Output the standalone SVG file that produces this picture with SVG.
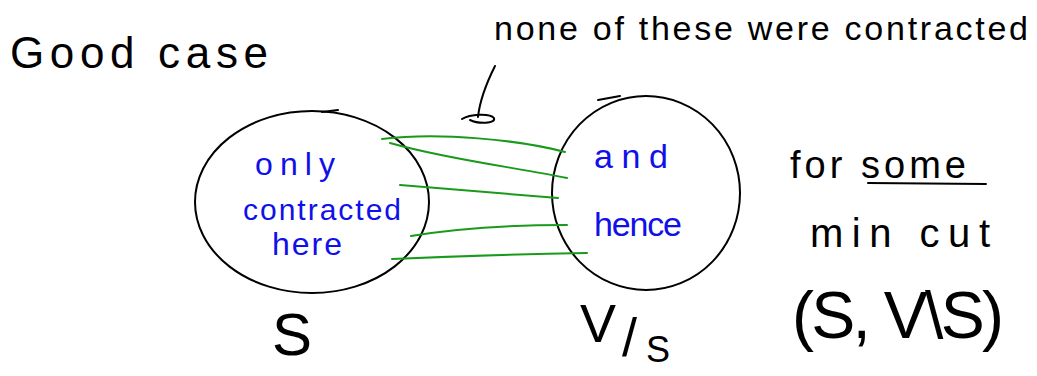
<svg xmlns="http://www.w3.org/2000/svg" width="1037" height="376" viewBox="0 0 1037 376">
<style>
.ink{fill:none;stroke:#000;stroke-width:2;stroke-linecap:round}
.edge{fill:none;stroke:#1a9a1a;stroke-width:2;stroke-linecap:round}
.t{font-family:"Liberation Sans","DejaVu Sans",sans-serif;fill:#000}
.b{font-family:"Liberation Sans","DejaVu Sans",sans-serif;fill:#1010e8}
</style>
<rect width="1037" height="376" fill="#fff"/>
<text class="t" x="10" y="68" font-size="44" textLength="258">Good case</text>
<text class="t" x="494" y="40" font-size="34" textLength="534">none of these were contracted</text>
<g id="node-S">
<ellipse class="ink" cx="312" cy="202" rx="117" ry="91"/>
<path class="ink" d="M322 112 L338 110"/>
<text class="b" x="255" y="175" font-size="32" textLength="80">only</text>
<text class="b" x="243" y="220" font-size="30" textLength="158">contracted</text>
<text class="b" x="272" y="255" font-size="32" textLength="70">here</text>
</g>
<g id="node-VS">
<ellipse class="ink" cx="646" cy="193" rx="94" ry="97"/>
<path class="ink" d="M598 100 L620 96"/>
<text class="b" x="594" y="168" font-size="34" textLength="74">and</text>
<text class="b" x="594" y="236" font-size="34" textLength="88">hence</text>
</g>
<g id="connectors">
<path class="edge" d="M382 139 C440 132 520 140 565 152"/>
<path class="edge" d="M390 143 C450 160 520 168 567 178"/>
<path class="edge" d="M400 185 C460 190 520 195 558 198"/>
<path class="edge" d="M411 236 C460 228 520 225 567 225"/>
<path class="edge" d="M392 259 C460 256 530 254 587 253"/>
<path class="ink" d="M495 66 C488 80 480 98 478 117"/>
<path class="ink" d="M462 119 C470 114 490 113 494 118 C496 124 478 124 470 120"/>
</g>
<g id="label-mincut">
<text class="t" x="790" y="178" font-size="38" textLength="176">for some</text>
<path class="ink" d="M868 183 L986 184"/>
<text class="t" x="810" y="247" font-size="40" textLength="180">min cut</text>
<text class="t" x="792" y="338" font-size="66" textLength="212">(S, V\S)</text>
</g>
<text class="t" x="272" y="355" font-size="60">S</text>
<text class="t" x="580" y="342" font-size="54">V</text>
<text class="t" x="622" y="356" font-size="54">/</text>
<text class="t" x="646" y="362" font-size="36">S</text>
</svg>
